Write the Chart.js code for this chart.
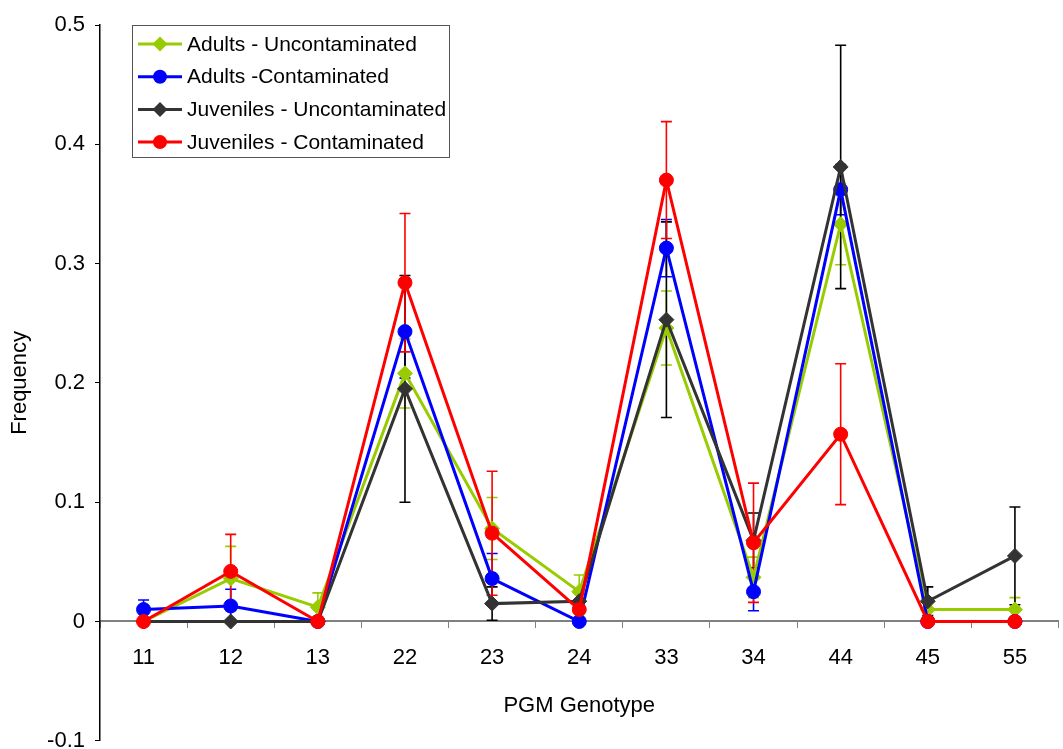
<!DOCTYPE html>
<html>
<head>
<meta charset="utf-8">
<title>PGM Genotype Frequency</title>
<script src="https://cdn.jsdelivr.net/npm/chart.js@4.4.1/dist/chart.umd.min.js"></script>
<style>
  html, body { margin: 0; padding: 0; background: #ffffff; overflow: hidden; }
  canvas { display: block; }
</style>
</head>
<body>
<canvas id="chart" width="1067" height="764"></canvas>
<script>
// PGM genotypes on the category axis
const genotypes = ['11', '12', '13', '22', '23', '24', '33', '34', '44', '45', '55'];

// Genotype frequencies per group
const adultsUncontaminated   = [0, 0.036, 0.012, 0.208, 0.078, 0.025, 0.246, 0.037, 0.333, 0.010, 0.010];
const adultsContaminated     = [0.010, 0.013, 0, 0.243, 0.036, 0, 0.313, 0.025, 0.362, 0, 0];
const juvenilesUncontaminated = [0, 0, 0, 0.195, 0.015, 0.017, 0.253, 0.068, 0.381, 0.017, 0.055];
const juvenilesContaminated  = [0, 0.042, 0, 0.284, 0.074, 0.010, 0.370, 0.066, 0.157, 0, 0];

// Symmetric error (± value) for each frequency
const adultsUncontaminatedErr   = [0, 0.027, 0.012, 0.029, 0.026, 0.014, 0.031, 0.017, 0.034, 0.010, 0.010];
const adultsContaminatedErr     = [0.008, 0.014, 0, 0.039, 0.021, 0, 0.024, 0.016, 0.021, 0, 0];
const juvenilesUncontaminatedErr = [0, 0, 0, 0.095, 0.014, 0.010, 0.082, 0.023, 0.102, 0.012, 0.041];
const juvenilesContaminatedErr  = [0, 0.031, 0, 0.058, 0.052, 0, 0.049, 0.050, 0.059, 0, 0];

// Group names shown in the legend
const seriesNames = [
  'Adults - Uncontaminated',
  'Adults -Contaminated',
  'Juveniles - Uncontaminated',
  'Juveniles - Contaminated'
];

// Value-axis tick labels from -0.1 to 0.5
const yTickLabels = ['-0.1', '0', '0.1', '0.2', '0.3', '0.4', '0.5'];

const FONT = "'Liberation Sans', Arial, Helvetica, sans-serif";

function makeSeries(name, data, err, color, errColor, pointStyle, order) {
  return {
    label: name,
    data: data,
    errors: err,
    errorColor: errColor,
    borderColor: color,
    backgroundColor: color,
    pointBackgroundColor: color,
    pointBorderColor: color,
    pointStyle: pointStyle,
    pointRadius: pointStyle === 'circle' ? 7 : 7.5,
    pointHoverRadius: 7,
    pointBorderWidth: 1,
    borderWidth: 3,
    tension: 0,
    fill: false,
    order: order
  };
}

const datasets = [
  makeSeries(seriesNames[0], adultsUncontaminated, adultsUncontaminatedErr, '#99CC00', '#99CC00', 'rectRot', 3),
  makeSeries(seriesNames[1], adultsContaminated, adultsContaminatedErr, '#0000FF', '#0000FF', 'circle', 2),
  makeSeries(seriesNames[2], juvenilesUncontaminated, juvenilesUncontaminatedErr, '#333333', '#000000', 'rectRot', 1),
  makeSeries(seriesNames[3], juvenilesContaminated, juvenilesContaminatedErr, '#FF0000', '#FF0000', 'circle', 0)
];

// Vertical error bars with caps, drawn beneath the lines
const errorBars = {
  id: 'errorBars',
  beforeDatasetsDraw(chart) {
    const ctx = chart.ctx;
    const yScale = chart.scales.y;
    const capHalf = 5.5;
    ctx.save();
    chart.data.datasets.forEach((ds, di) => {
      const meta = chart.getDatasetMeta(di);
      ctx.strokeStyle = ds.errorColor;
      ctx.lineWidth = 1.6;
      ds.data.forEach((v, i) => {
        const e = ds.errors[i];
        if (!e) return;
        const x = meta.data[i].x;
        const yTop = yScale.getPixelForValue(v + e);
        const yBot = yScale.getPixelForValue(v - e);
        ctx.beginPath();
        ctx.moveTo(x, yTop); ctx.lineTo(x, yBot);
        ctx.moveTo(x - capHalf, yTop); ctx.lineTo(x + capHalf, yTop);
        ctx.moveTo(x - capHalf, yBot); ctx.lineTo(x + capHalf, yBot);
        ctx.stroke();
      });
    });
    ctx.restore();
  }
};

// Boxed legend in the upper-left corner of the plot
const boxedLegend = {
  id: 'boxedLegend',
  afterDraw(chart) {
    const ctx = chart.ctx;
    const bx = 132.5, by = 25.5, bw = 317, bh = 132;
    ctx.save();
    ctx.fillStyle = '#ffffff';
    ctx.fillRect(bx, by, bw, bh);
    ctx.strokeStyle = '#555555';
    ctx.lineWidth = 1;
    ctx.strokeRect(bx, by, bw, bh);
    chart.data.datasets.forEach((ds, k) => {
      const y = 44 + k * 32.7;
      ctx.strokeStyle = ds.borderColor;
      ctx.lineWidth = 3;
      ctx.beginPath();
      ctx.moveTo(138, y); ctx.lineTo(182, y);
      ctx.stroke();
      ctx.fillStyle = ds.borderColor;
      ctx.beginPath();
      if (ds.pointStyle === 'circle') {
        ctx.arc(160, y, 7, 0, Math.PI * 2);
      } else {
        const r = 7.5;
        ctx.moveTo(160, y - r); ctx.lineTo(160 + r, y);
        ctx.lineTo(160, y + r); ctx.lineTo(160 - r, y);
        ctx.closePath();
      }
      ctx.fill();
      ctx.fillStyle = '#000000';
      ctx.font = '21px ' + FONT;
      ctx.textAlign = 'left';
      ctx.textBaseline = 'middle';
      ctx.fillText(ds.label, 187, y + 1);
    });
    ctx.restore();
  }
};

new Chart(document.getElementById('chart'), {
  type: 'line',
  data: { labels: genotypes, datasets: datasets },
  plugins: [errorBars, boxedLegend],
  options: {
    responsive: false,
    animation: false,
    devicePixelRatio: 1,
    layout: { padding: { top: 25, bottom: 9, left: 0, right: 0 } },
    plugins: {
      legend: { display: false },
      tooltip: { enabled: false }
    },
    scales: {
      x: {
        type: 'category',
        position: { y: 0 },
        offset: true,
        grid: {
          offset: true,
          drawOnChartArea: false,
          drawTicks: true,
          tickLength: 6,
          color: '#808080',
          lineWidth: 1
        },
        border: { display: true, color: '#808080', width: 2 },
        ticks: {
          color: '#000000',
          padding: 17,
          font: { family: FONT, size: 22 },
          maxRotation: 0,
          autoSkip: false
        },
        title: {
          display: true,
          text: 'PGM Genotype',
          color: '#000000',
          font: { family: FONT, size: 22 },
          padding: { top: 5, bottom: 0 }
        }
      },
      y: {
        type: 'linear',
        min: -0.1,
        max: 0.5,
        afterFit(scale) { scale.width = 100; },
        grid: {
          drawOnChartArea: false,
          drawTicks: true,
          tickLength: 5,
          color: '#000000',
          lineWidth: 1
        },
        border: { display: true, color: '#000000', width: 1.5 },
        ticks: {
          stepSize: 0.1,
          color: '#000000',
          padding: 10,
          font: { family: FONT, size: 22 },
          callback(value) {
            const idx = Math.round((value + 0.1) * 10);
            return yTickLabels[idx];
          }
        },
        title: {
          display: true,
          text: 'Frequency',
          color: '#000000',
          font: { family: FONT, size: 22 },
          padding: { top: 7, bottom: 0 }
        }
      }
    }
  }
});
</script>
</body>
</html>
